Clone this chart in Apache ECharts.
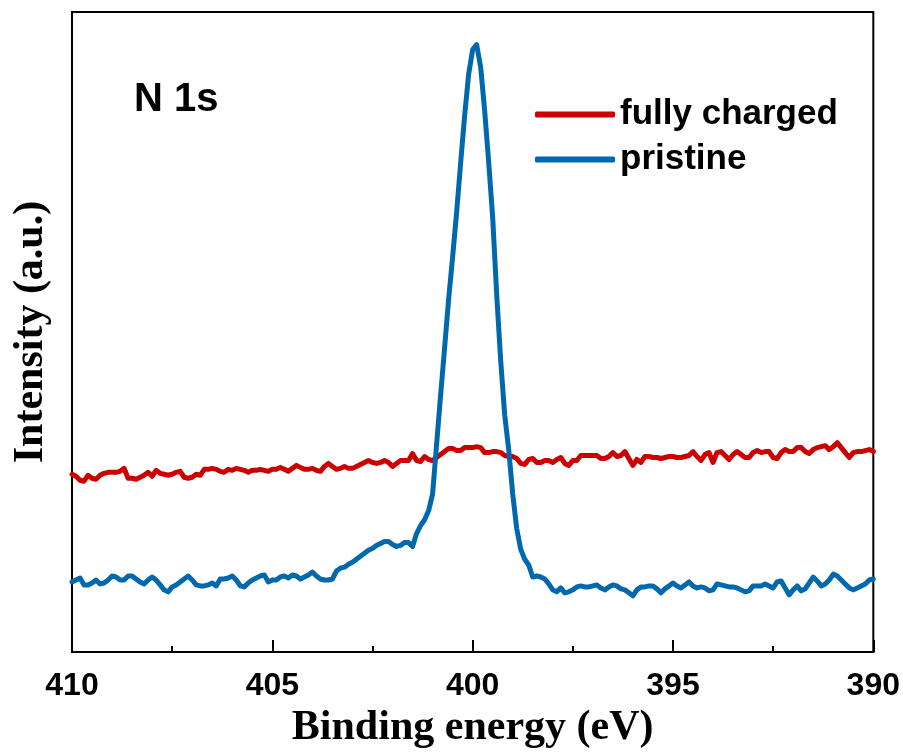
<!DOCTYPE html>
<html><head><meta charset="utf-8">
<script src="https://cdn.jsdelivr.net/npm/echarts@6/dist/echarts.min.js"></script>
<style>html,body{margin:0;padding:0;background:#fff}#c{width:903px;height:754px}</style>
</head><body><div id="c"></div>
<script>
// Binding energy grid: 410.0 eV down to 390.0 eV in 0.1 eV steps
const energyStart = 410;
const energyStep = 0.1;
const seriesNames = ['fully charged', 'pristine'];
const seriesColors = ['#cc0000', '#0068ad'];
const xTickLabels = [410, 405, 400, 395, 390];

// Intensity (a.u.), 410.0 -> 390.0 eV
const fullyCharged = [
  180,178,174,173,179,176,175,179,181,182,
  182,182,183,186,176,176,175,177,179,182,
  178,184,181,180,179,180,182,183,177,176,
  177,180,179,185,185,186,185,183,182,185,
  184,186,185,184,182,184,184,185,184,183,
  185,
  185,187,185,183,186,189,187,185,185,186,
  184,183,188,191,188,185,186,188,186,186,
  188,190,192,194,192,191,192,194,192,188,
  191,194,194,194,201,194,193,198,195,194,
  197,200,203,206,206,204,204,207,207,207,
  208,207,202,202,203,203,202,199,198,198,
  196,191,190,195,196,192,192,194,194,192,
  195,197,191,189,194,194,199,199,199,199,
  199,196,196,198,202,198,199,203,196,189,
  195,192,198,198,197,197,196,197,198,198,
  197,197,198,199,203,198,194,200,202,192,
  202,203,199,195,200,203,200,197,197,202,
  204,202,203,203,197,196,202,205,203,203,
  207,207,203,201,205,207,208,209,205,208,
  212,207,202,197,202,203,203,204,205,203
];
const pristine = [
  71,73,75,68,68,70,73,69,70,73,
  77,76,73,73,77,77,74,71,69,73,
  76,73,68,63,61,66,68,71,74,77,
  73,68,67,67,68,70,67,74,74,75,
  77,73,67,66,70,73,75,77,78,71,
  73,
  73,76,77,75,78,77,74,76,78,81,
  77,74,73,73,74,82,85,86,89,91,
  94,97,100,103,105,108,110,112,112,109,
  107,108,111,111,107,120,128,134,143,160,
  210,260,308,357,400,445,495,543,585,610,
  615,592,548,496,440,362,295,240,205,160,
  125,104,94,88,76,77,76,74,69,63,
  61,65,60,61,63,66,67,66,66,67,
  68,65,63,66,68,67,64,63,60,57,
  63,66,66,67,67,64,60,64,67,70,
  67,65,68,71,67,65,66,65,62,63,
  69,68,67,66,66,65,63,61,62,67,
  67,67,69,67,65,71,72,65,58,63,
  67,62,64,70,76,72,67,69,73,79,
  77,73,69,65,63,65,67,69,73,74
];

const energies = fullyCharged.map((_, i) => +(energyStart - energyStep * i).toFixed(1));
const pairs = vals => vals.map((v, i) => [energies[i], v]);

const chart = echarts.init(document.getElementById('c'), null, {renderer: 'canvas'});
chart.setOption({
  animation: false,
  backgroundColor: '#fff',
  title: {
    text: 'N 1s', left: 129, top: 75,
    textStyle: {fontFamily: 'Liberation Sans', fontWeight: 'bold', fontSize: 40, color: '#000'}
  },
  legend: {
    orient: 'vertical', left: 530, top: 92,
    icon: 'roundRect', itemWidth: 80, itemHeight: 6, itemGap: 10,
    data: seriesNames,
    textStyle: {fontFamily: 'Liberation Sans', fontWeight: 'bold', fontSize: 35, color: '#000', padding: [0, 0, 0, 0]}
  },
  grid: {left: 72, right: 29, top: 12, bottom: 94, show: true, borderColor: '#000', borderWidth: 2, containLabel: false},
  xAxis: {
    type: 'value', min: 390, max: 410, interval: 5, inverse: true,
    name: 'Binding energy (eV)', nameLocation: 'middle', nameGap: 46,
    nameTextStyle: {fontFamily: 'Liberation Serif', fontWeight: 'bold', fontSize: 42, color: '#000'},
    axisLine: {show: true, lineStyle: {color: '#000', width: 2}},
    axisTick: {show: true, inside: true, length: 12, lineStyle: {color: '#000', width: 2}},
    minorTick: {show: true, splitNumber: 2, length: 6, lineStyle: {color: '#000', width: 2}},
    splitLine: {show: false},
    axisLabel: {
      margin: 18, color: '#000', fontFamily: 'Liberation Sans', fontWeight: 'bold', fontSize: 32,
      formatter: v => xTickLabels.includes(v) ? String(v) : ''
    }
  },
  yAxis: {
    type: 'value', min: 0, max: 648,
    name: 'Intensity (a.u.)', nameLocation: 'middle', nameGap: 20,
    nameTextStyle: {fontFamily: 'Liberation Serif', fontWeight: 'bold', fontSize: 42, color: '#000'},
    axisLine: {show: true, lineStyle: {color: '#000', width: 2}},
    axisTick: {show: false}, axisLabel: {show: false}, splitLine: {show: false}
  },
  series: [
    {name: seriesNames[0], type: 'line', data: pairs(fullyCharged), showSymbol: false, symbol: 'none',
     color: seriesColors[0], lineStyle: {color: seriesColors[0], width: 5, join: 'round', cap: 'round'}},
    {name: seriesNames[1], type: 'line', data: pairs(pristine), showSymbol: false, symbol: 'none',
     color: seriesColors[1], lineStyle: {color: seriesColors[1], width: 5, join: 'round', cap: 'round'}}
  ]
});
</script>
</body></html>
